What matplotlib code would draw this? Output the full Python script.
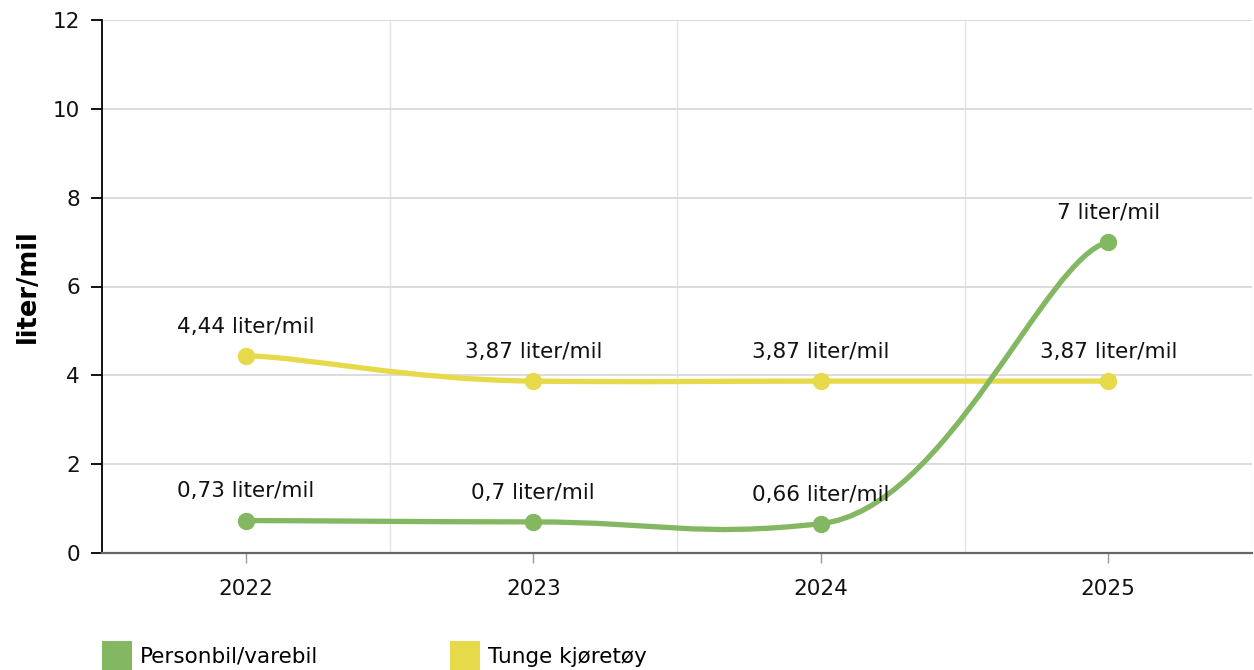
import matplotlib
matplotlib.use("Agg")
import matplotlib.pyplot as plt
from matplotlib.path import Path
from matplotlib.patches import PathPatch, Patch
from matplotlib.ticker import FixedLocator
import numpy as np

plt.rcParams['font.family'] = ['DejaVu Sans']

# ---- data ----
years = ["2022", "2023", "2024", "2025"]
personbil = [0.73, 0.70, 0.66, 7.0]
tunge = [4.44, 3.87, 3.87, 3.87]
series_names = ["Personbil/varebil", "Tunge kjøretøy"]
y_ticks = [0, 2, 4, 6, 8, 10, 12]
unit = "liter/mil"

GREEN = "#84b761"
YELLOW = "#e6d94a"
FS = 15.5

fig = plt.figure(figsize=(12.54, 6.70), dpi=100)
ax = fig.add_axes([102 / 1254, 1 - 553 / 670, 1150 / 1254, 533 / 670])

x = np.arange(len(years), dtype=float)


def smooth_path(xs, ys, kx=0.22, ky=0.05):
    pts = np.column_stack([xs, ys])
    n = len(pts)
    k = np.array([kx, ky])
    verts = [pts[0]]
    codes = [Path.MOVETO]
    for i in range(n - 1):
        p0 = pts[i - 1] if i > 0 else pts[i]
        p1 = pts[i]
        p2 = pts[i + 1]
        p3 = pts[i + 2] if i + 2 < n else pts[i + 1]
        ca = p1 + (p2 - p0) * k
        cb = p2 - (p3 - p1) * k
        verts += [ca, cb, p2]
        codes += [Path.CURVE4] * 3
    return Path(verts, codes)


for vals, col, z in [(tunge, YELLOW, 3), (personbil, GREEN, 4)]:
    ax.add_patch(PathPatch(smooth_path(x, vals), facecolor="none", edgecolor=col,
                           lw=3.8, capstyle="round", joinstyle="round", zorder=z))
    ax.plot(x, vals, "o", color=col, markersize=11.5, zorder=z, clip_on=False)
    for xi, v in zip(x, vals):
        lab = f"{v:g}".replace(".", ",") + " " + unit
        ax.annotate(lab, (xi, v), xytext=(0, 21), textcoords="offset points",
                    ha="center", va="center", fontsize=FS, color="#111111", zorder=6)

ax.set_xlim(-0.5, 3.5)
ax.set_ylim(0, 12)
ax.set_xticks(x)
ax.set_xticklabels(years)
ax.xaxis.set_minor_locator(FixedLocator([0.5, 1.5, 2.5, 3.5]))
ax.set_yticks(y_ticks)
ax.set_yticklabels([str(t) for t in y_ticks])

ax.grid(axis="y", which="major", color="#d9d9d9", lw=1.3, zorder=0)
ax.grid(axis="x", which="minor", color="#e3e3e3", lw=1.0, zorder=0)
ax.grid(axis="x", which="major", visible=False)
ax.set_axisbelow(True)

for s in ["top", "right"]:
    ax.spines[s].set_visible(False)
ax.spines["left"].set_color("#000000")
ax.spines["left"].set_linewidth(1.3)
ax.spines["bottom"].set_color("#666666")
ax.spines["bottom"].set_linewidth(1.6)

ax.tick_params(axis="y", which="major", length=8, width=1.3, color="#000000",
               labelsize=FS, pad=8, labelcolor="#111111")
ax.tick_params(axis="x", which="major", length=7, width=1.0, color="#999999",
               labelsize=FS, pad=12, labelcolor="#111111")
ax.tick_params(axis="x", which="minor", length=0)

ax.set_ylabel(unit, fontsize=18.5, fontweight="bold", color="#000000")
ax.yaxis.set_label_coords(-0.053, 0.5)

handles = [Patch(facecolor=GREEN, edgecolor="none"), Patch(facecolor=YELLOW, edgecolor="none")]
fig.legend(handles, series_names, loc="upper left",
           bbox_to_anchor=(102 / 1254, 1 - 641 / 670), frameon=False,
           fontsize=FS, ncol=2, handlelength=1.4, handleheight=1.75,
           handletextpad=0.37, columnspacing=6.1, borderpad=0, borderaxespad=0)

fig.savefig("out.png", dpi=100)
